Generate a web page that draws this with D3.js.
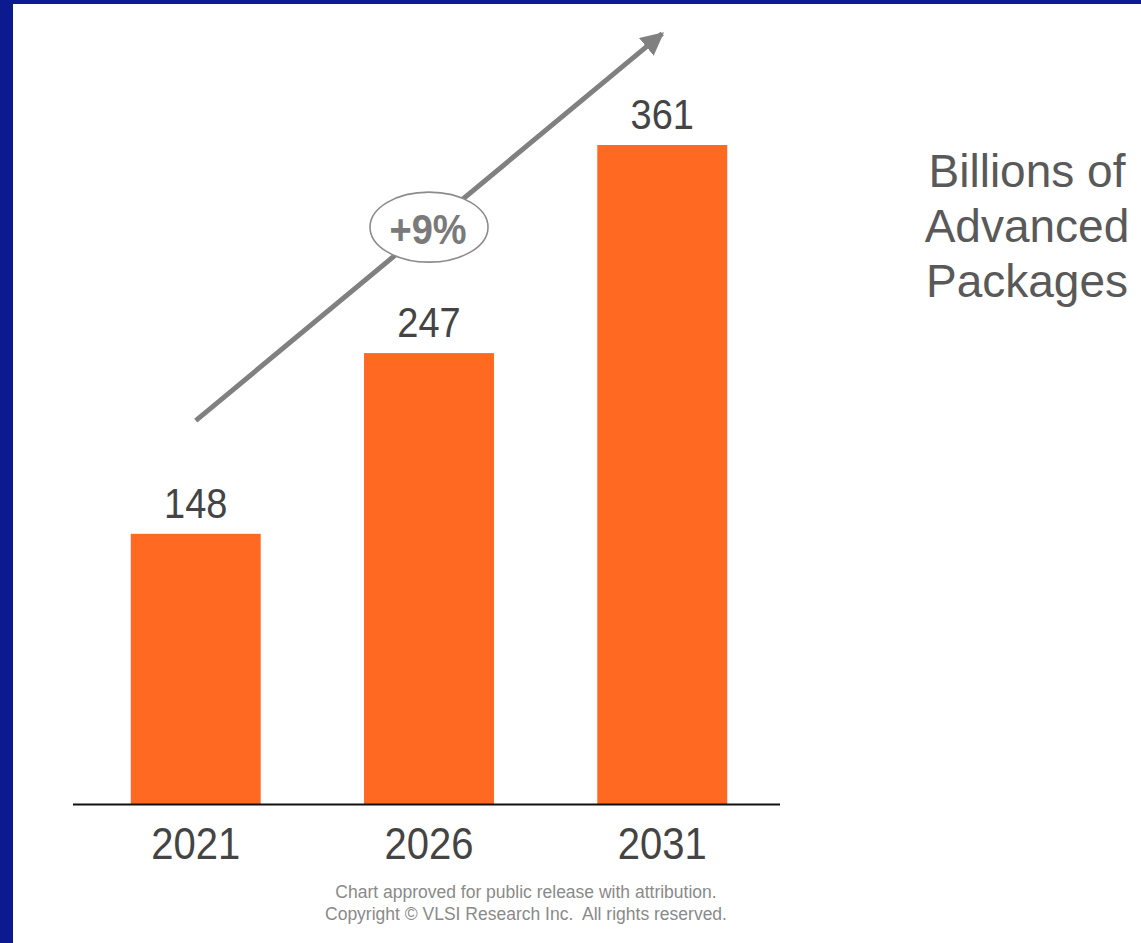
<!DOCTYPE html>
<html>
<head>
<meta charset="utf-8">
<script src="https://cdn.jsdelivr.net/npm/d3@7"></script>
<style>
  html, body { margin: 0; padding: 0; background: #fff; }
  svg { display: block; font-family: "Liberation Sans", Arial, sans-serif; }
  .footer { white-space: pre; }
</style>
</head>
<body>
<svg id="chart" width="1141" height="943"></svg>
<script>
// chart data
const years = ["2021", "2026", "2031"];
const packages = [148, 247, 361];
const growthLabel = "+9%";
const unitLines = ["Billions of", "Advanced", "Packages"];
const footerLines = [
  "Chart approved for public release with attribution.",
  "Copyright \u00A9 VLSI Research Inc.  All rights reserved."
];
// trend arrow and badge, in data units
const trendArrow = [{ year: "2021", value: 210 }, { year: "2031", value: 422 }];
const badgeAt = { year: "2026", value: 316 };

const BAR_COLOR = "#ff6922";
const LABEL_COLOR = "#444";
const ARROW_COLOR = "#808080";
const BORDER_COLOR = "#0b1a8e";

const svg = d3.select("#chart");

// frame in the slide colour
svg.append("rect").attr("x", 0).attr("y", 0).attr("width", 1141).attr("height", 4).attr("fill", BORDER_COLOR);
svg.append("rect").attr("x", 0).attr("y", 0).attr("width", 13).attr("height", 943).attr("fill", BORDER_COLOR);

const x = d3.scaleBand()
  .domain(years)
  .range([79, 779])
  .paddingInner(0.443)
  .paddingOuter(0.222);

const y = d3.scaleLinear()
  .domain([0, d3.max(packages)])
  .range([804, 145]);

const cx = yr => x(yr) + x.bandwidth() / 2;
const rows = years.map((yr, i) => ({ year: yr, value: packages[i] }));

// bars
svg.append("g").selectAll("rect")
  .data(rows)
  .join("rect")
  .attr("x", d => x(d.year))
  .attr("y", d => y(d.value))
  .attr("width", x.bandwidth())
  .attr("height", d => y(0) - y(d.value))
  .attr("fill", BAR_COLOR);

// baseline
svg.append("line")
  .attr("x1", 73).attr("x2", 780)
  .attr("y1", y(0) + 0.5).attr("y2", y(0) + 0.5)
  .attr("stroke", "#111").attr("stroke-width", 2);

// value labels (slightly tall type, like the slide)
svg.append("g").selectAll("text")
  .data(rows)
  .join("text")
  .attr("transform", d => `translate(${cx(d.year)},${y(d.value) - 16}) scale(1,1.1)`)
  .attr("text-anchor", "middle")
  .attr("font-size", 38)
  .attr("fill", LABEL_COLOR)
  .text(d => d.value);

// year labels
svg.append("g").selectAll("text")
  .data(years)
  .join("text")
  .attr("transform", d => `translate(${cx(d)},859) scale(1,1.09)`)
  .attr("text-anchor", "middle")
  .attr("font-size", 40)
  .attr("fill", LABEL_COLOR)
  .text(d => d);

// trend arrow
const defs = svg.append("defs");
defs.append("marker")
  .attr("id", "head")
  .attr("viewBox", "0 0 10 10")
  .attr("refX", 9).attr("refY", 5)
  .attr("markerWidth", 4.6).attr("markerHeight", 4.6)
  .attr("markerUnits", "strokeWidth")
  .attr("orient", "auto")
  .append("path")
  .attr("d", "M0,0 L10,5 L0,10 Z")
  .attr("fill", ARROW_COLOR);

svg.append("path")
  .datum(trendArrow)
  .attr("d", d3.line().x(d => cx(d.year)).y(d => y(d.value)))
  .attr("stroke", ARROW_COLOR)
  .attr("stroke-width", 5)
  .attr("fill", "none")
  .attr("marker-end", "url(#head)");

// growth badge
const bx = cx(badgeAt.year), by = y(badgeAt.value);
svg.append("ellipse")
  .attr("cx", bx).attr("cy", by)
  .attr("rx", 59).attr("ry", 35)
  .attr("fill", "#fff")
  .attr("stroke", "#8c8c8c")
  .attr("stroke-width", 1.6);
svg.append("text")
  .attr("transform", `translate(${bx - 1},${by + 17}) scale(1,1.12)`)
  .attr("text-anchor", "middle")
  .attr("font-size", 38)
  .attr("font-weight", "bold")
  .attr("fill", "#7a7a7a")
  .text(growthLabel);

// unit note on the right
svg.append("g").selectAll("text")
  .data(unitLines)
  .join("text")
  .attr("x", 1027)
  .attr("y", (d, i) => 187 + i * 55)
  .attr("text-anchor", "middle")
  .attr("font-size", 46)
  .attr("fill", "#595959")
  .text(d => d);

// footer
svg.append("g").selectAll("text")
  .data(footerLines)
  .join("text")
  .attr("class", "footer")
  .attr("x", 526)
  .attr("y", (d, i) => 898 + i * 22)
  .attr("text-anchor", "middle")
  .attr("font-size", 17.5)
  .attr("fill", "#8a8a8a")
  .text(d => d);
</script>
</body>
</html>
